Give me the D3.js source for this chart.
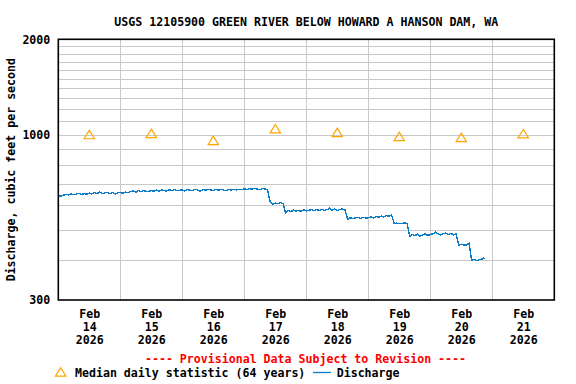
<!DOCTYPE html>
<html>
<head>
<meta charset="utf-8">
<script src="https://cdn.jsdelivr.net/npm/d3@7"></script>
<style>
  body { margin: 0; background: #fff; }
  svg text { font-family: "DejaVu Sans Mono", "Liberation Mono", monospace; font-weight: bold; }
</style>
</head>
<body>
<div id="chart"></div>
<script>
// chart values
const titleText = "USGS 12105900 GREEN RIVER BELOW HOWARD A HANSON DAM, WA";
const dayStarts = ["2026-02-14", "2026-02-15", "2026-02-16", "2026-02-17",
                   "2026-02-18", "2026-02-19", "2026-02-20", "2026-02-21"];
const medianValues = [1000, 1008, 958, 1043, 1016, 986, 979, 1007];
const yTickValues = [300, 1000, 2000];
const yGridValues = [400, 500, 600, 700, 800, 900, 1000, 1100, 1200, 1300,
                     1400, 1500, 1600, 1700, 1800, 1900];
// hourly discharge from Feb 14 00:00
const dischargeStart = "2026-02-14T00:00";
const discharge = [
  641, 638, 643, 648, 644, 650, 645, 648, 653, 646, 651, 648,
  654, 649, 656, 651, 658, 650, 654, 657, 651, 655, 649, 654,
  657, 652, 658, 655, 660, 663, 657, 665, 660, 666, 661, 660,
  666, 662, 667, 661, 668, 665, 663, 669, 665, 670, 664, 667,
  669, 663, 670, 667, 665, 671, 668, 662, 670, 667, 671, 668,
  665, 670, 667, 671, 668, 664, 670, 667, 672, 668, 671, 669,
  674, 670, 675, 672, 676, 673, 670, 675, 673, 670,
  612, 601, 608, 605, 609, 604,
  565, 575, 570, 577, 572, 576, 571, 578, 573, 577, 579, 574,
  580, 575, 581, 576, 579, 585, 577, 581, 576, 579, 582, 578,
  540, 546, 542, 545, 547, 542, 548, 544, 546,
  549, 545, 551, 548, 553, 549, 555, 552, 557,
  524, 525, 523, 524, 525, 524,
  477, 483, 479, 484, 477, 481, 485, 480, 483, 486, 491, 485,
  481, 486, 488, 483, 487, 482, 485,
  446, 450, 447, 448, 453,
  400, 403, 399, 402, 404, 408
];

const width = 576, height = 384;
const margin = {top: 39.3, right: 21.7, bottom: 84, left: 58.3};

const parseDay = d3.timeParse("%Y-%m-%d");
const parseHour = d3.timeParse("%Y-%m-%dT%H:%M");
const t0 = parseHour(dischargeStart);
const flow = discharge.map((v, i) => ({t: d3.timeHour.offset(t0, i), v: v}));
const medians = dayStarts.map((d, i) => ({t: d3.timeHour.offset(parseDay(d), 12), v: medianValues[i]}));

const svg = d3.select("#chart").append("svg")
  .attr("width", width)
  .attr("height", height);

const x = d3.scaleTime()
  .domain([parseDay(dayStarts[0]), d3.timeDay.offset(parseDay(dayStarts[7]), 1)])
  .range([margin.left, width - margin.right]);

const y = d3.scaleLog()
  .domain([300, 2000])
  .range([height - margin.bottom, margin.top]);

// grid
svg.append("g")
  .selectAll("line.h")
  .data(yGridValues)
  .enter().append("line")
    .attr("x1", margin.left).attr("x2", width - margin.right)
    .attr("y1", d => Math.round(y(d)) + 0.5).attr("y2", d => Math.round(y(d)) + 0.5)
    .attr("stroke", "#c8c8c8").attr("stroke-width", 1);

svg.append("g")
  .selectAll("line.v")
  .data(dayStarts.slice(1).map(parseDay))
  .enter().append("line")
    .attr("x1", d => Math.round(x(d)) + 0.5).attr("x2", d => Math.round(x(d)) + 0.5)
    .attr("y1", margin.top).attr("y2", height - margin.bottom)
    .attr("stroke", "#c8c8c8").attr("stroke-width", 1);

// discharge line
const line = d3.line().x(d => x(d.t)).y(d => y(d.v));
svg.append("path")
  .datum(flow)
  .attr("d", line)
  .attr("fill", "none")
  .attr("stroke", "#0a7ccc")
  .attr("stroke-width", 1.4)
  .attr("shape-rendering", "crispEdges");

// median triangles
const tri = "M0,-4.3L5.2,4.2L-5.2,4.2Z";
svg.append("g")
  .selectAll("path")
  .data(medians)
  .enter().append("path")
    .attr("d", tri)
    .attr("transform", d => `translate(${x(d.t)},${y(d.v)})`)
    .attr("fill", "none")
    .attr("stroke", "#ffa500")
    .attr("stroke-width", 1.2);

// frame
svg.append("rect")
  .attr("x", margin.left).attr("y", margin.top)
  .attr("width", width - margin.left - margin.right)
  .attr("height", height - margin.top - margin.bottom)
  .attr("fill", "none").attr("stroke", "#000").attr("stroke-width", 1.6);

// y axis
svg.append("g")
  .attr("transform", `translate(${margin.left},0)`)
  .call(d3.axisLeft(y).tickValues(yTickValues).tickSize(0).tickPadding(8).tickFormat(d3.format("d")))
  .call(g => g.select(".domain").remove())
  .selectAll("text")
    .attr("font-size", "11.6px")
    .attr("fill", "#000");

// x axis, labels at noon
const xAxis = svg.append("g")
  .attr("transform", `translate(0,${height - margin.bottom})`)
  .call(d3.axisBottom(x).tickValues(medians.map(d => d.t)).tickSize(0).tickFormat(""))
  .call(g => g.select(".domain").remove());

xAxis.selectAll(".tick text").each(function(d) {
  const t = d3.select(this).attr("font-size", "11.6px").attr("fill", "#000").attr("y", 0).attr("dy", null);
  [d3.timeFormat("%b")(d), d3.timeFormat("%d")(d), d3.timeFormat("%Y")(d)].forEach((s, i) => {
    t.append("tspan").attr("x", 0).attr("y", 18 + i * 13).text(s);
  });
});

// title
svg.append("text")
  .attr("x", (margin.left + width - margin.right) / 2)
  .attr("y", 26)
  .attr("text-anchor", "middle")
  .attr("font-size", "11.6px")
  .text(titleText);

// y label
svg.append("text")
  .attr("transform", `translate(15,${(margin.top + height - margin.bottom) / 2}) rotate(-90)`)
  .attr("text-anchor", "middle")
  .attr("font-size", "11.6px")
  .text("Discharge, cubic feet per second");

// provisional note
svg.append("text")
  .attr("x", 305.5)
  .attr("y", 363)
  .attr("text-anchor", "middle")
  .attr("font-size", "11.6px")
  .attr("fill", "#ff0000")
  .text("---- Provisional Data Subject to Revision ----");

// legend
const legend = svg.append("g");
legend.append("path")
  .attr("d", tri)
  .attr("transform", "translate(60.7,372)")
  .attr("fill", "none").attr("stroke", "#ffa500").attr("stroke-width", 1.2);
legend.append("text")
  .attr("x", 75).attr("y", 377)
  .attr("font-size", "11.6px")
  .text("Median daily statistic (64 years)");
legend.append("line")
  .attr("x1", 313).attr("x2", 331).attr("y1", 372.5).attr("y2", 372.5)
  .attr("stroke", "#0a7ccc").attr("stroke-width", 1.3);
legend.append("text")
  .attr("x", 336.7).attr("y", 377)
  .attr("font-size", "11.6px")
  .text("Discharge");
</script>
</body>
</html>
